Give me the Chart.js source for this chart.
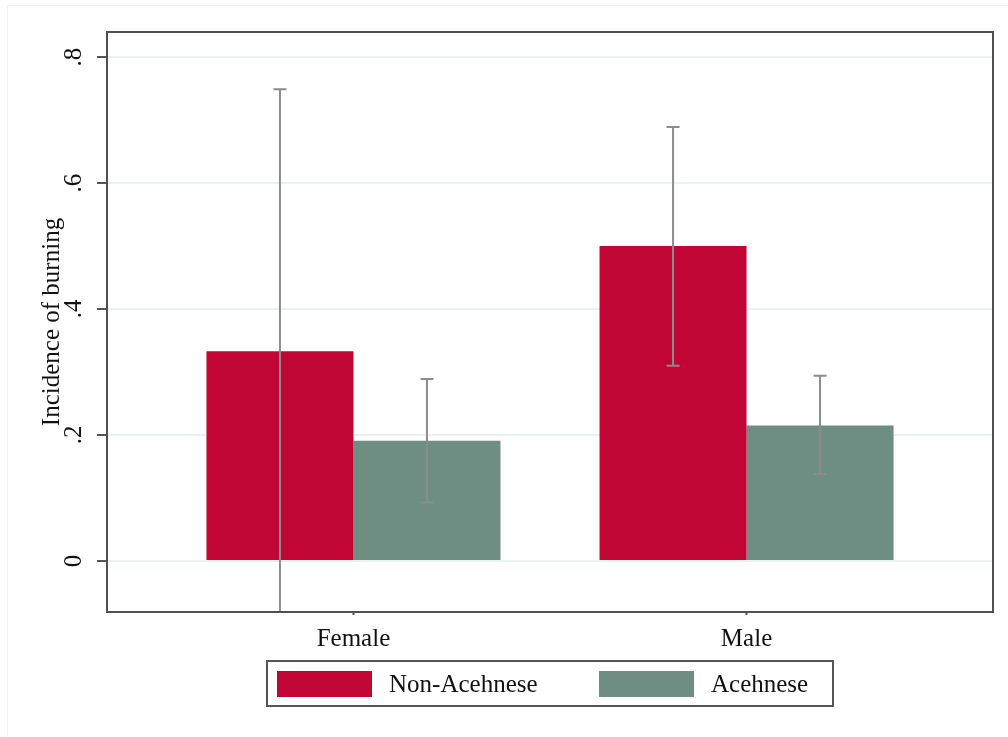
<!DOCTYPE html>
<html><head><meta charset="utf-8">
<script src="https://cdn.jsdelivr.net/npm/chart.js@4.4.1/dist/chart.umd.min.js"></script>
<style>
html,body{margin:0;padding:0;background:#fff;}
#wrap{position:relative;width:1008px;height:737px;overflow:hidden;background:#fff;}
#outer{position:absolute;left:7px;top:5px;width:1010px;height:740px;border-left:1px solid #f1f1f1;border-top:1px solid #f1f1f1;}
canvas{position:absolute;left:0;top:0;}
#legend{position:absolute;left:266px;top:660px;width:564px;height:43px;border:2px solid #555;}
.sw{position:absolute;top:9px;width:95px;height:26px;}
.lt{position:absolute;top:9px;height:26px;line-height:26px;font-family:'Liberation Serif',serif;font-size:25px;white-space:nowrap;color:#111;}
</style></head>
<body>
<div id="wrap">
<div id="outer"></div>
<canvas id="c" width="1008" height="737"></canvas>
<div id="legend"></div>
</div>
<script>
const categories = ['Female', 'Male'];
const categoryPos = [0, 1];
const seriesNames = ['Non-Acehnese', 'Acehnese'];
const seriesColors = ['#C10534', '#6E8E84'];
const nonAcehnese = [0.333, 0.500];
const acehnese = [0.191, 0.215];
const nonAcehneseLow = [-0.084, 0.310];
const nonAcehneseHigh = [0.749, 0.689];
const acehneseLow = [0.093, 0.138];
const acehneseHigh = [0.289, 0.294];
const yTicks = [0, 0.2, 0.4, 0.6, 0.8];
const yTickLabels = ['0', '.2', '.4', '.6', '.8'];

const FONT = "'Liberation Serif', serif";

const errorBars = {
  id: 'errorBars',
  afterDatasetsDraw(chart) {
    const {ctx, chartArea: a, scales: {y}} = chart;
    ctx.save();
    ctx.beginPath();
    ctx.rect(a.left, a.top, a.right - a.left, a.bottom - a.top);
    ctx.clip();
    ctx.strokeStyle = '#8c8c8c';
    ctx.lineWidth = 2;
    chart.data.datasets.forEach((ds, di) => {
      const meta = chart.getDatasetMeta(di);
      meta.data.forEach((bar, i) => {
        const lo = y.getPixelForValue(ds.errLow[i]);
        const hi = y.getPixelForValue(ds.errHigh[i]);
        const x = bar.x;
        ctx.beginPath();
        ctx.moveTo(x, lo); ctx.lineTo(x, hi);
        ctx.moveTo(x - 6.5, lo); ctx.lineTo(x + 6.5, lo);
        ctx.moveTo(x - 6.5, hi); ctx.lineTo(x + 6.5, hi);
        ctx.stroke();
      });
    });
    ctx.restore();
  }
};

const frame = {
  id: 'frame',
  afterDraw(chart) {
    const {ctx, chartArea: a} = chart;
    ctx.save();
    ctx.strokeStyle = '#505050';
    ctx.lineWidth = 2;
    ctx.strokeRect(a.left, a.top, a.right - a.left, a.bottom - a.top);
    ctx.restore();
  }
};

new Chart(document.getElementById('c'), {
  type: 'bar',
  data: {
    datasets: [
      {
        label: seriesNames[0],
        data: categoryPos.map((x, i) => ({x: x, y: nonAcehnese[i]})),
        backgroundColor: seriesColors[0],
        borderWidth: 0,
        errLow: nonAcehneseLow,
        errHigh: nonAcehneseHigh
      },
      {
        label: seriesNames[1],
        data: categoryPos.map((x, i) => ({x: x, y: acehnese[i]})),
        backgroundColor: seriesColors[1],
        borderWidth: 0,
        errLow: acehneseLow,
        errHigh: acehneseHigh
      }
    ]
  },
  options: {
    responsive: false,
    animation: false,
    devicePixelRatio: 1,
    layout: {padding: {left: 0, right: 15, top: 32, bottom: 0}},
    datasets: {bar: {categoryPercentage: 0.748, barPercentage: 1}},
    plugins: {legend: {display: false}, tooltip: {enabled: false}},
    scales: {
      x: {
        type: 'linear',
        min: -0.627,
        max: 1.627,
        offset: false,
        afterBuildTicks(s) { s.ticks = categoryPos.map(v => ({value: v})); },
        afterFit(s) { s.height = 125; },
        grid: {display: true, drawOnChartArea: false, offset: false, tickLength: 3, tickColor: '#555', tickWidth: 2, color: '#555'},
        border: {display: false},
        ticks: {
          callback: (v, i) => categories[i],
          font: {family: FONT, size: 25},
          color: '#111',
          padding: 9,
          maxRotation: 0,
          autoSkip: false
        }
      },
      y: {
        min: -0.081,
        max: 0.8397,
        afterBuildTicks(s) { s.ticks = yTicks.map(v => ({value: v})); },
        afterFit(s) { s.width = 107; },
        grid: {color: '#e9f1f3', lineWidth: 2, tickLength: 10, tickColor: '#555', tickWidth: 2},
        border: {display: false},
        ticks: {
          callback: (v, i) => yTickLabels[i],
          minRotation: 90,
          maxRotation: 90,
          crossAlign: 'center',
          padding: 13,
          font: {family: FONT, size: 25},
          color: '#111',
          autoSkip: false
        },
        title: {
          display: true,
          text: 'Incidence of burning',
          font: {family: FONT, size: 25},
          color: '#111',
          padding: {top: 37, bottom: 0}
        }
      }
    }
  },
  plugins: [errorBars, frame]
});

// legend built from the series arrays
const legend = document.getElementById('legend');
const swLeft = [9, 331];
const txtLeft = [121, 443];
seriesNames.forEach((name, i) => {
  const sw = document.createElement('div');
  sw.className = 'sw';
  sw.style.left = swLeft[i] + 'px';
  sw.style.background = seriesColors[i];
  legend.appendChild(sw);
  const t = document.createElement('div');
  t.className = 'lt';
  t.style.left = txtLeft[i] + 'px';
  t.textContent = name;
  legend.appendChild(t);
});
</script>
</body></html>
